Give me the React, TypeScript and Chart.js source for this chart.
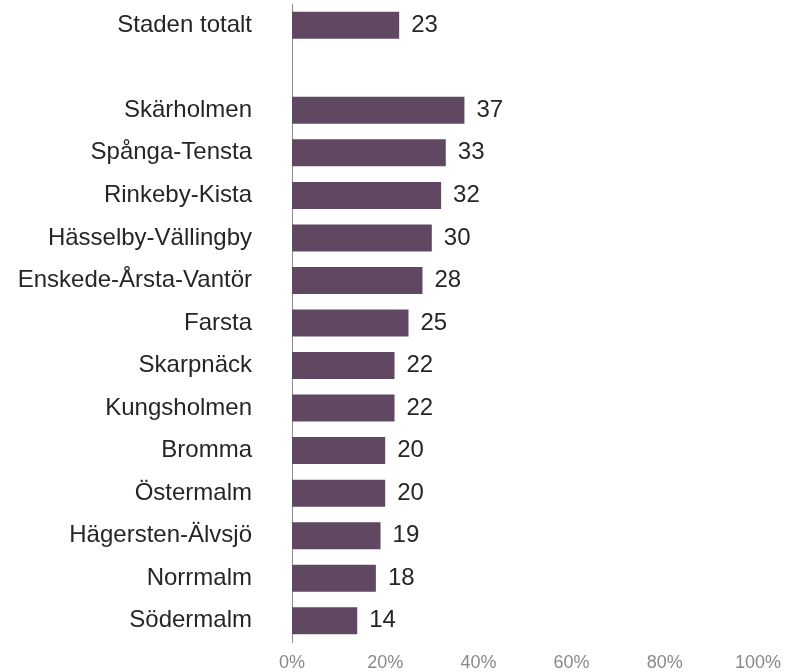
import React, { useEffect, useRef } from "react";
import { Chart, registerables } from "chart.js";

Chart.register(...registerables);

const categories: string[] = [
  "Staden totalt",
  "",
  "Skärholmen",
  "Spånga-Tensta",
  "Rinkeby-Kista",
  "Hässelby-Vällingby",
  "Enskede-Årsta-Vantör",
  "Farsta",
  "Skarpnäck",
  "Kungsholmen",
  "Bromma",
  "Östermalm",
  "Hägersten-Älvsjö",
  "Norrmalm",
  "Södermalm",
];

const values: (number | null)[] = [23, null, 37, 33, 32, 30, 28, 25, 22, 22, 20, 20, 19, 18, 14];

const xTicks: number[] = [0, 20, 40, 60, 80, 100];

const FONT = "'Liberation Sans', Arial, sans-serif";

const valueLabels = {
  id: "valueLabels",
  afterDatasetsDraw(chart: any) {
    const ctx = chart.ctx;
    const meta = chart.getDatasetMeta(0);
    ctx.save();
    ctx.font = `24px ${FONT}`;
    ctx.fillStyle = "#262626";
    ctx.textAlign = "left";
    ctx.textBaseline = "middle";
    meta.data.forEach((bar: any, i: number) => {
      const v = values[i];
      if (v === null || v === undefined) return;
      ctx.fillText(String(v), bar.x + 12, bar.y);
    });
    ctx.restore();
  },
};

export default function App() {
  const ref = useRef<HTMLCanvasElement | null>(null);
  useEffect(() => {
    if (!ref.current) return;
    const chart = new Chart(ref.current, {
      type: "bar",
      data: {
        labels: categories,
        datasets: [
          {
            data: values as any,
            backgroundColor: "#604863",
            barPercentage: 0.635,
            categoryPercentage: 1,
          },
        ],
      },
      options: {
        indexAxis: "y",
        animation: false,
        responsive: false,
        maintainAspectRatio: false,
        layout: { padding: { top: 4, right: 37, bottom: 0, left: 0 } },
        plugins: {
          legend: { display: false },
          tooltip: { enabled: false },
        },
        scales: {
          x: {
            min: 0,
            max: 100,
            afterBuildTicks(scale: any) {
              scale.ticks = xTicks.map((v) => ({ value: v }));
            },
            afterFit(scale: any) {
              scale.height = 30;
            },
            grid: { display: false, drawTicks: false },
            border: { display: false },
            ticks: {
              padding: 10,
              color: "#898989",
              font: { family: FONT, size: 18 },
              callback: (v: any) => `${v}%`,
            },
          },
          y: {
            grid: { display: false, drawTicks: false },
            border: { display: true, color: "#8c8c8c", width: 1 },
            afterFit(scale: any) {
              scale.width = 292;
              scale.paddingTop = 0;
              scale.paddingBottom = 0;
            },
            ticks: {
              padding: 40,
              color: "#262626",
              autoSkip: false,
              font: { family: FONT, size: 24 },
            },
          },
        },
      },
      plugins: [valueLabels],
    });
    return () => chart.destroy();
  }, []);
  return (
    <div style={{ position: "fixed", left: 0, top: 0, width: 795, height: 672, background: "#fff" }}>
      <canvas ref={ref} width={795} height={672} style={{ width: 795, height: 672 }} />
    </div>
  );
}
